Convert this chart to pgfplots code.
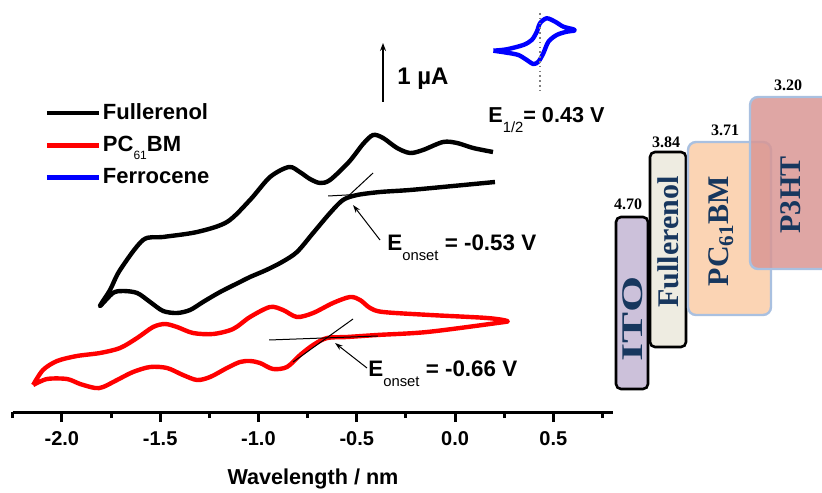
\documentclass[border=0pt]{standalone}
\usepackage{fontspec}
\setmainfont{Liberation Sans}
\newfontfamily\timesfont{Liberation Serif}
\usepackage{pgfplots}
\pgfplotsset{compat=1.18}
\usetikzlibrary{arrows.meta}
\definecolor{navy}{HTML}{17375E}
\definecolor{itofill}{HTML}{CCC1DA}
\definecolor{fulfill}{HTML}{EEECE1}
\definecolor{pcbmfill}{HTML}{FBD4B4}
\definecolor{p3htfill}{HTML}{D99694}
\definecolor{boxblue}{HTML}{A9C0E0}
\newcommand{\esub}[1]{\raisebox{-4.7pt}{\mdseries\fontsize{7.4}{7.4}\selectfont #1}}
\begin{document}
\begin{tikzpicture}
\useasboundingbox (0,0) rectangle (411pt,246pt);
\begin{axis}[
  at={(6.35pt,40pt)}, anchor=south west,
  scale only axis, width=300.3pt, height=206pt,
  xmin=-2.25, xmax=0.805, ymin=0, ymax=412,
  axis x line=bottom, axis y line=none,
  x axis line style={-, line width=1.5pt},
  xtick={-2,-1.5,-1,-0.5,0,0.5},
  minor xtick={-2.25,-1.75,-1.25,-0.75,-0.25,0.25,0.75},
  tick align=outside, major tick length=5pt, minor tick length=3pt,
  every tick/.style={black, line width=1.5pt},
  /pgf/number format/assume math mode=true,
  xticklabel style={font=\bfseries\fontsize{10}{12}\selectfont, anchor=base, yshift=-11.6pt,
    /pgf/number format/fixed, /pgf/number format/fixed zerofill, /pgf/number format/precision=1},
  xlabel={Wavelength / nm},
  xlabel style={font=\bfseries\fontsize{10.8}{13}\selectfont, at={(axis description cs:0.5,0)}, anchor=base, yshift=-36.3pt},
  clip=false,
  legend cell align=left,
  legend image code/.code={\draw[#1, line width=2.2pt] (0pt,0pt) -- (26pt,0pt);},
  legend style={at={(axis cs:-2.09,267)}, anchor=west, draw=none, fill=none,
    inner xsep=0pt, inner ysep=0pt, row sep=5pt,
    font=\bfseries\fontsize{11}{13}\selectfont, nodes={inner sep=1pt}},
]
% Fullerenol CV
\addplot[black, line width=2.2pt, smooth, tension=0.5, line join=round] coordinates {
(0.193,260) (0.092,264) (0.010,269) (-0.061,270) (-0.163,262) (-0.229,259) (-0.295,264)
(-0.366,274) (-0.417,277) (-0.468,268) (-0.540,250) (-0.636,232) (-0.687,229) (-0.738,233)
(-0.790,240) (-0.845,245) (-0.941,235) (-1.043,212) (-1.160,190) (-1.312,180) (-1.485,175)
(-1.587,172) (-1.704,142) (-1.755,122) (-1.806,106)
(-1.740,119) (-1.689,121) (-1.617,119) (-1.551,110) (-1.485,101) (-1.414,99) (-1.348,102)
(-1.282,110) (-1.195,120) (-1.094,130) (-1.043,135) (-0.960,142) (-0.880,150) (-0.804,160)
(-0.722,179) (-0.636,199) (-0.570,212) (-0.498,217) (-0.381,220) (-0.229,222) (-0.010,226)
(0.203,230)
};
\addlegendentry{Fullerenol}
% PC61BM CV
\addplot[red, line width=2.2pt, smooth, tension=0.5, line join=round] coordinates {
(-2.146,27) (-2.096,42) (-2.024,51) (-1.923,56) (-1.806,59) (-1.704,64) (-1.617,74)
(-1.536,85) (-1.475,88) (-1.414,85) (-1.333,79) (-1.231,78) (-1.129,83) (-1.043,95)
(-0.941,105) (-0.875,102) (-0.804,95) (-0.722,99) (-0.621,109) (-0.534,115) (-0.483,112)
(-0.432,104) (-0.366,100) (-0.127,97) (0.163,94) (0.265,91)
(0.214,89) (-0.142,80) (-0.397,77) (-0.549,75) (-0.651,74) (-0.722,67) (-0.788,57)
(-0.855,45) (-0.926,43) (-0.992,49) (-1.043,51) (-1.094,50) (-1.160,44) (-1.246,35)
(-1.312,32) (-1.384,37) (-1.465,44) (-1.551,45) (-1.638,40) (-1.719,32) (-1.790,25)
(-1.831,24) (-1.907,28) (-1.974,33) (-2.075,33) (-2.146,27)
};
\addlegendentry{PC\raisebox{-3.8pt}{\mdseries\fontsize{6}{6}\selectfont 61}BM}
% Ferrocene CV
\addplot[blue, line width=2.2pt, smooth, tension=0.5, line join=round] coordinates {
(0.195,361.3) (0.263,362.7) (0.347,367) (0.390,372) (0.416,380.3) (0.432,388.7)
(0.466,393.7) (0.509,390.3) (0.551,385.3) (0.602,382.7) (0.605,381.3)
(0.568,380.3) (0.517,377) (0.475,370.3) (0.449,358.7) (0.424,350.3) (0.398,348)
(0.365,352) (0.322,357) (0.263,359.3) (0.195,361.3)
};
\addlegendentry{Ferrocene}
% E1/2 marker line
\addplot[gray, line width=0.6pt, dash pattern=on 0.8pt off 1.6pt, forget plot] coordinates {(0.432,399) (0.432,320)};
% onset tangents
\addplot[black, line width=0.5pt, forget plot] coordinates {(-0.646,216) (-0.458,218)};
\addplot[black, line width=0.5pt, forget plot] coordinates {(-0.636,199) (-0.417,239)};
\addplot[black, line width=0.5pt, forget plot] coordinates {(-0.946,72) (-0.392,76)};
\addplot[black, line width=0.5pt, forget plot] coordinates {(-0.824,50) (-0.519,93)};
\end{axis}
\begin{axis}[
  at={(0pt,0pt)}, anchor=south west,
  scale only axis, width=411pt, height=246pt,
  xmin=0, xmax=822, ymin=0, ymax=492,
  hide axis, clip=false,
]
% scale bar
\draw[-{Stealth[length=4pt,width=3pt]}, line width=0.7pt] (axis cs:383,390) -- (axis cs:383,449);
\node[anchor=base west, inner sep=0pt, font=\bfseries\fontsize{12}{12}\selectfont] at (axis cs:397,407) {1 µA};
\node[anchor=base west, inner sep=0pt, font=\bfseries\fontsize{10.8}{12}\selectfont] at (axis cs:488,369) {E\esub{1/2}= 0.43 V};
\node[anchor=base west, inner sep=0pt, font=\bfseries\fontsize{11.2}{12}\selectfont] at (axis cs:387,241) {E\esub{onset} = -0.53 V};
\node[anchor=base west, inner sep=0pt, font=\bfseries\fontsize{11.2}{12}\selectfont] at (axis cs:368,115) {E\esub{onset} = -0.66 V};
\draw[-{Stealth[length=4pt,width=2.6pt]}, line width=0.5pt] (axis cs:380,252) -- (axis cs:353,287);
\draw[-{Stealth[length=4pt,width=2.6pt]}, line width=0.5pt] (axis cs:367,124) -- (axis cs:335,149);
% energy diagram
\draw[fill=itofill, draw=black, line width=1.3pt, rounded corners=2.5pt] (axis cs:616,103) rectangle (axis cs:648,275);
\draw[fill=fulfill, draw=black, line width=1.3pt, rounded corners=2.5pt] (axis cs:650,145) rectangle (axis cs:686,340);
\draw[fill=pcbmfill, draw=boxblue, line width=1.2pt, rounded corners=4pt] (axis cs:688,177) rectangle (axis cs:771,350);
\draw[fill=p3htfill, fill opacity=0.85, draw=boxblue, line width=1.2pt, rounded corners=4pt] (axis cs:750,223) rectangle (axis cs:840,395);
\begin{scope}[every node/.style={text=navy, font=\timesfont\bfseries\fontsize{15}{15}\selectfont, rotate=90, inner sep=0pt}]
\node at (axis cs:633,173) {\scalebox{1.55}[1]{ITO}};
\node at (axis cs:668,250) {Fullerenol};
\node at (axis cs:721,261) {PC\textsubscript{61}BM};
\node at (axis cs:791,297) {P3HT};
\end{scope}
\begin{scope}[every node/.style={font=\timesfont\bfseries\fontsize{8}{8}\selectfont, inner sep=0pt}]
\node at (axis cs:628,288) {4.70};
\node at (axis cs:666,350) {3.84};
\node at (axis cs:725,362) {3.71};
\node at (axis cs:788,407) {3.20};
\end{scope}
\end{axis}
\end{tikzpicture}
\end{document}
